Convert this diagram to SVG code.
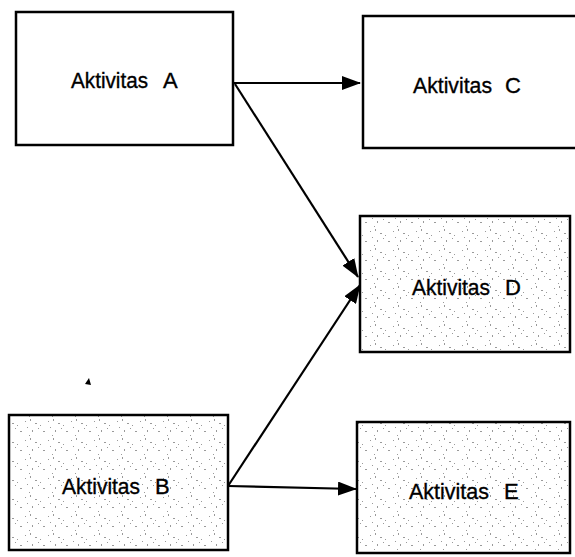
<svg xmlns="http://www.w3.org/2000/svg" width="575" height="557" viewBox="0 0 575 557">
<style>
.box{stroke:#000;stroke-width:2.5;}
.plain{fill:#fff;}
.dotted{fill:url(#stip);}
.lbl{font-family:"Liberation Sans",Arial,sans-serif;font-size:22px;fill:#000;stroke:#000;stroke-width:0.35;}
.con{stroke:#000;stroke-width:2.2;fill:none;marker-end:url(#ah);}
</style>
<defs>
<marker id="ah" viewBox="0 0 19 14" refX="18" refY="7" markerWidth="19" markerHeight="14" markerUnits="userSpaceOnUse" orient="auto">
<path d="M0,0 L19,7 L0,14 Z" fill="#000"/>
</marker>
<pattern id="stip" width="23" height="19" patternUnits="userSpaceOnUse">
<rect width="23" height="19" fill="#fff"/>
<g fill="#9a9a9a">
<rect x="2" y="3" width="1" height="1"/>
<rect x="7" y="1" width="1" height="2"/>
<rect x="12" y="5" width="2" height="1"/>
<rect x="4" y="9" width="1" height="1"/>
<rect x="9" y="12" width="1" height="2"/>
<rect x="15" y="10" width="1" height="1"/>
<rect x="20" y="13" width="2" height="1"/>
<rect x="6" y="17" width="1" height="1"/>
<rect x="17" y="7" width="1" height="1"/>
</g>
</pattern>
</defs>

<g id="connectors">
<line class="con" x1="234" y1="83" x2="360" y2="83"/>
<line class="con" x1="235" y1="84" x2="358" y2="277"/>
<line class="con" x1="228" y1="486" x2="360" y2="285"/>
<line class="con" x1="228" y1="486" x2="356" y2="489"/>
</g>

<g id="nodeA">
<rect class="box plain" x="16" y="12" width="217" height="133"/>
<text class="lbl" x="71" y="88" textLength="77" lengthAdjust="spacingAndGlyphs">Aktivitas</text>
<text class="lbl" x="163" y="88">A</text>
</g>

<g id="nodeC">
<rect class="box plain" x="363" y="16" width="220" height="132"/>
<text class="lbl" x="413" y="93" textLength="79" lengthAdjust="spacingAndGlyphs">Aktivitas</text>
<text class="lbl" x="505" y="93">C</text>
</g>

<g id="nodeD">
<rect class="box dotted" x="360" y="216" width="210" height="136"/>
<text class="lbl" x="412" y="295" textLength="78" lengthAdjust="spacingAndGlyphs">Aktivitas</text>
<text class="lbl" x="505" y="295">D</text>
</g>

<g id="nodeB">
<rect class="box dotted" x="9" y="415" width="219" height="135"/>
<text class="lbl" x="62" y="494" textLength="78" lengthAdjust="spacingAndGlyphs">Aktivitas</text>
<text class="lbl" x="155" y="494">B</text>
</g>

<g id="nodeE">
<rect class="box dotted" x="357" y="422" width="213" height="131"/>
<text class="lbl" x="409" y="499" textLength="80" lengthAdjust="spacingAndGlyphs">Aktivitas</text>
<text class="lbl" x="504" y="499">E</text>
</g>

<path d="M85,384 L89,378 L91,385 Z" fill="#000"/>
</svg>
